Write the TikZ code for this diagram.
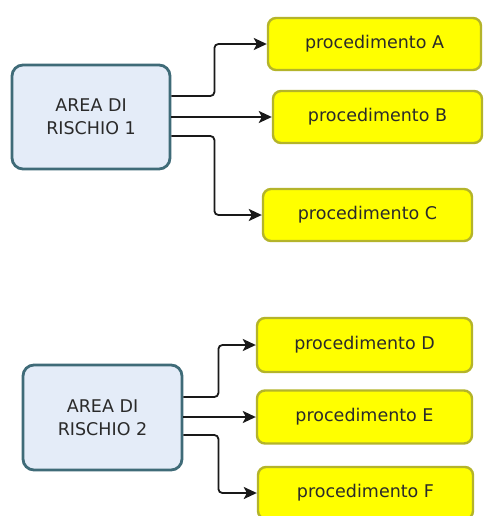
\documentclass[tikz,border=0pt]{standalone}
\usepackage{fontspec}
\setmainfont{DejaVu Sans}
\usetikzlibrary{arrows.meta}
\definecolor{areafill}{HTML}{E4ECF8}
\definecolor{areaborder}{HTML}{3F6B78}
\definecolor{procfill}{HTML}{FFFF00}
\definecolor{procborder}{HTML}{B4B42A}
\definecolor{txt}{HTML}{2A2A2A}
\tikzset{
  area/.style={draw=areaborder, fill=areafill, line width=2.8pt, rounded corners=11pt,
    minimum width=158pt, minimum height=104pt, align=center, text=txt,
    font=\fontsize{17.5}{23}\selectfont, inner sep=0pt},
  proc/.style={draw=procborder, fill=procfill, line width=2.4pt, rounded corners=8pt,
    minimum height=52pt, text=txt, font=\fontsize{17.5}{21}\selectfont, inner sep=0pt},
  conn/.style={draw=black!90, line width=1.8pt, rounded corners=4pt,
    -{Stealth[length=13pt,width=12pt,inset=3pt]}}
}
\begin{document}
\begin{tikzpicture}[x=1pt,y=-1pt]
\clip (0,0) rectangle (483,516);
\fill[white] (0,0) rectangle (483,516);

% first risk area and its procedures
\node[area] (r1) at (91,117) {AREA DI\\RISCHIO 1};
\node[proc, minimum width=213pt] (pA) at (374.5,44) {procedimento A};
\node[proc, minimum width=209pt] (pB) at (377.5,117) {procedimento B};
\node[proc, minimum width=209pt] (pC) at (367.5,215) {procedimento C};

% second risk area and its procedures
\node[area, minimum width=159pt, minimum height=105pt] (r2) at (102.5,417.5) {AREA DI\\RISCHIO 2};
\node[proc, minimum width=215pt, minimum height=54pt] (pD) at (364.5,345) {procedimento D};
\node[proc, minimum width=215pt, minimum height=53pt] (pE) at (364.5,417) {procedimento E};
\node[proc, minimum width=215pt, minimum height=52pt] (pF) at (365.5,493) {procedimento F};

% connectors
\draw[conn] (r1.east |- 0,96) -- ++(43,0) |- (pA.west);
\draw[conn] (r1.east |- 0,117) -- (pB.west);
\draw[conn] (r1.east |- 0,136) -- ++(43,0) |- (pC.west);

\draw[conn] (r2.east |- 0,397) -- ++(35,0) |- (pD.west);
\draw[conn] (r2.east |- 0,417) -- (pE.west);
\draw[conn] (r2.east |- 0,435) -- ++(35,0) |- (pF.west);
\end{tikzpicture}
\end{document}
